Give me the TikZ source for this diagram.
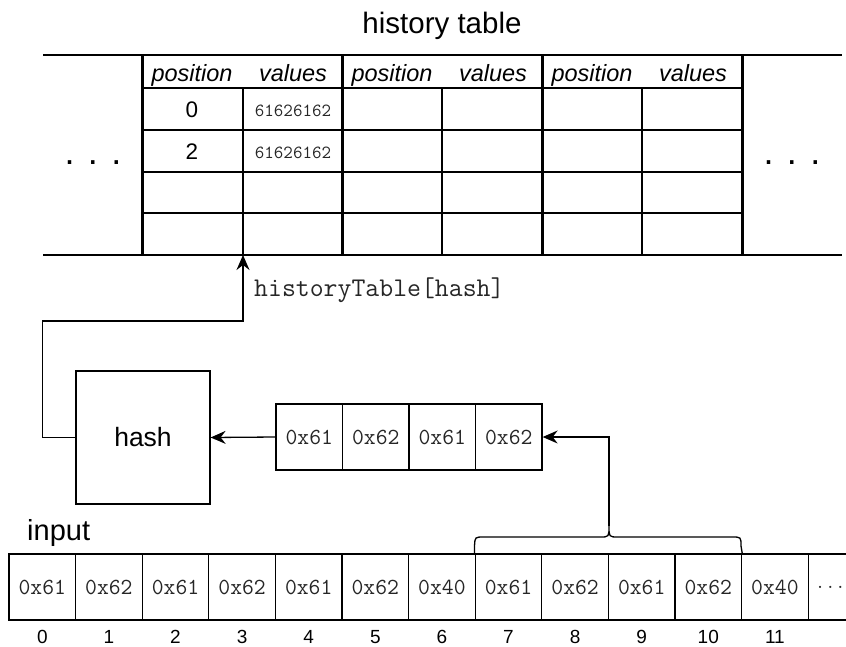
\documentclass[tikz,border=0pt]{standalone}
\usepackage{fontspec}
\setmainfont{Liberation Sans}
\usetikzlibrary{arrows.meta,calc}
\begin{document}
\begin{tikzpicture}[x=1pt,y=-1pt,
  thinln/.style={line width=1.3pt},
  tblthick/.style={line width=3pt},
  tblrule/.style={line width=2pt},
  cellbox/.style={draw,line width=1.3pt,minimum width=66.6pt,minimum height=66pt,inner sep=0pt,
    font=\fontsize{23}{24}\selectfont\ttfamily,text=black!85},
  smallbox/.style={cellbox,minimum width=66.5pt},
  arr/.style={line width=1.3pt,-{Stealth[length=15pt,width=13pt,inset=5pt]}},
  hdr/.style={anchor=base,font=\fontsize{23.5}{25}\selectfont\itshape,inner sep=0pt},
  posnum/.style={anchor=base,font=\fontsize{22.5}{24}\selectfont,inner sep=0pt},
  valtxt/.style={anchor=base,font=\fontsize{18.5}{20}\selectfont\ttfamily,text=black!85,inner sep=0pt},
  idx/.style={anchor=base,font=\fontsize{19}{20}\selectfont,inner sep=0pt},
  dotsx/.style={anchor=base,font=\fontsize{36}{36}\selectfont,inner sep=0pt},
]
\useasboundingbox (0,0) rectangle (846,646);
\clip (0,0) rectangle (846,646);

% title
\node[anchor=base,font=\fontsize{29.5}{31}\selectfont,inner sep=0pt] (title) at (442,33) {history table};

% table rules
\draw[tblrule] (43,55) -- (842,55);
\draw[tblrule] (43,255) -- (842,255);
\foreach \y in {88,130,172,213} \draw[thinln] (142,\y) -- (742,\y);
\foreach \x in {243,442,642} \draw[thinln] (\x,88) -- (\x,255);
\foreach \x in {142,342,542,742} \draw[tblthick] (\x,55) -- (\x,255);

% headers
\foreach \g in {0,1,2} {
  \node[hdr] (hp\g) at ({192+200*\g},81) {position};
  \node[hdr] (hv\g) at ({293+200*\g},81) {values};
}
\node[posnum] (p0) at (192,117) {0};
\node[posnum] (p1) at (192,159) {2};
\node[valtxt] (v0) at (293,116) {61626162};
\node[valtxt] (v1) at (293,158) {61626162};

\node[dotsx] (dl) at (93,164) {. . .};
\node[dotsx] (dr) at (792,164) {. . .};

\coordinate (tblin) at (243,255);
\node[anchor=base west,font=\fontsize{27}{28}\selectfont\ttfamily,text=black!85,inner sep=0pt] (htlabel) at (254,296) {historyTable[hash]};

% hash box
\node[draw,thinln,minimum width=134pt,minimum height=133pt,inner sep=0pt,font=\fontsize{26.5}{28}\selectfont] (hash) at (143,437.5) {hash};

% small window
\foreach \v [count=\i from 0] in {0x61,0x62,0x61,0x62}
  \node[smallbox] (s\i) at ({309.25+66.5*\i},437) {\v};

% input
\node[anchor=base west,font=\fontsize{29}{30}\selectfont,inner sep=0pt] (inlabel) at (27,540) {input};
\foreach \v [count=\i from 0] in {0x61,0x62,0x61,0x62,0x61,0x62,0x40,0x61,0x62,0x61,0x62,0x40,{}}
  \node[cellbox] (in\i) at ({42.3+66.6*\i},587) {\v};
\node[anchor=west,font=\fontsize{19.5}{22}\selectfont\ttfamily,text=black!85,inner sep=0pt] (indots) at (815,587) {...};
\foreach \i in {0,...,11}
  \node[idx] (n\i) at ({42.3+66.6*\i},643) {\i};

% brace over input 7..10
\coordinate (bracetip) at (609,526);
\draw[thinln] (in7.north west) -- ++(0,-8) .. controls (475,537) .. (484,537) -- (600,537)
  .. controls (609,537) .. (bracetip) .. controls (609,537) .. (618,537) -- (732,537)
  .. controls (741,537) .. (741,546) -- (in10.north east);

% connectors
\coordinate (turn1) at (609,437);
\draw[arr] (bracetip) -- (turn1) -- (s3.east);
\draw[arr] (s0.west) -- (hash.east);
\coordinate (bend) at (243,321);
\draw[arr] (hash.west) -- ++(-33,0) |- (bend) -- (tblin);
\end{tikzpicture}
\end{document}
